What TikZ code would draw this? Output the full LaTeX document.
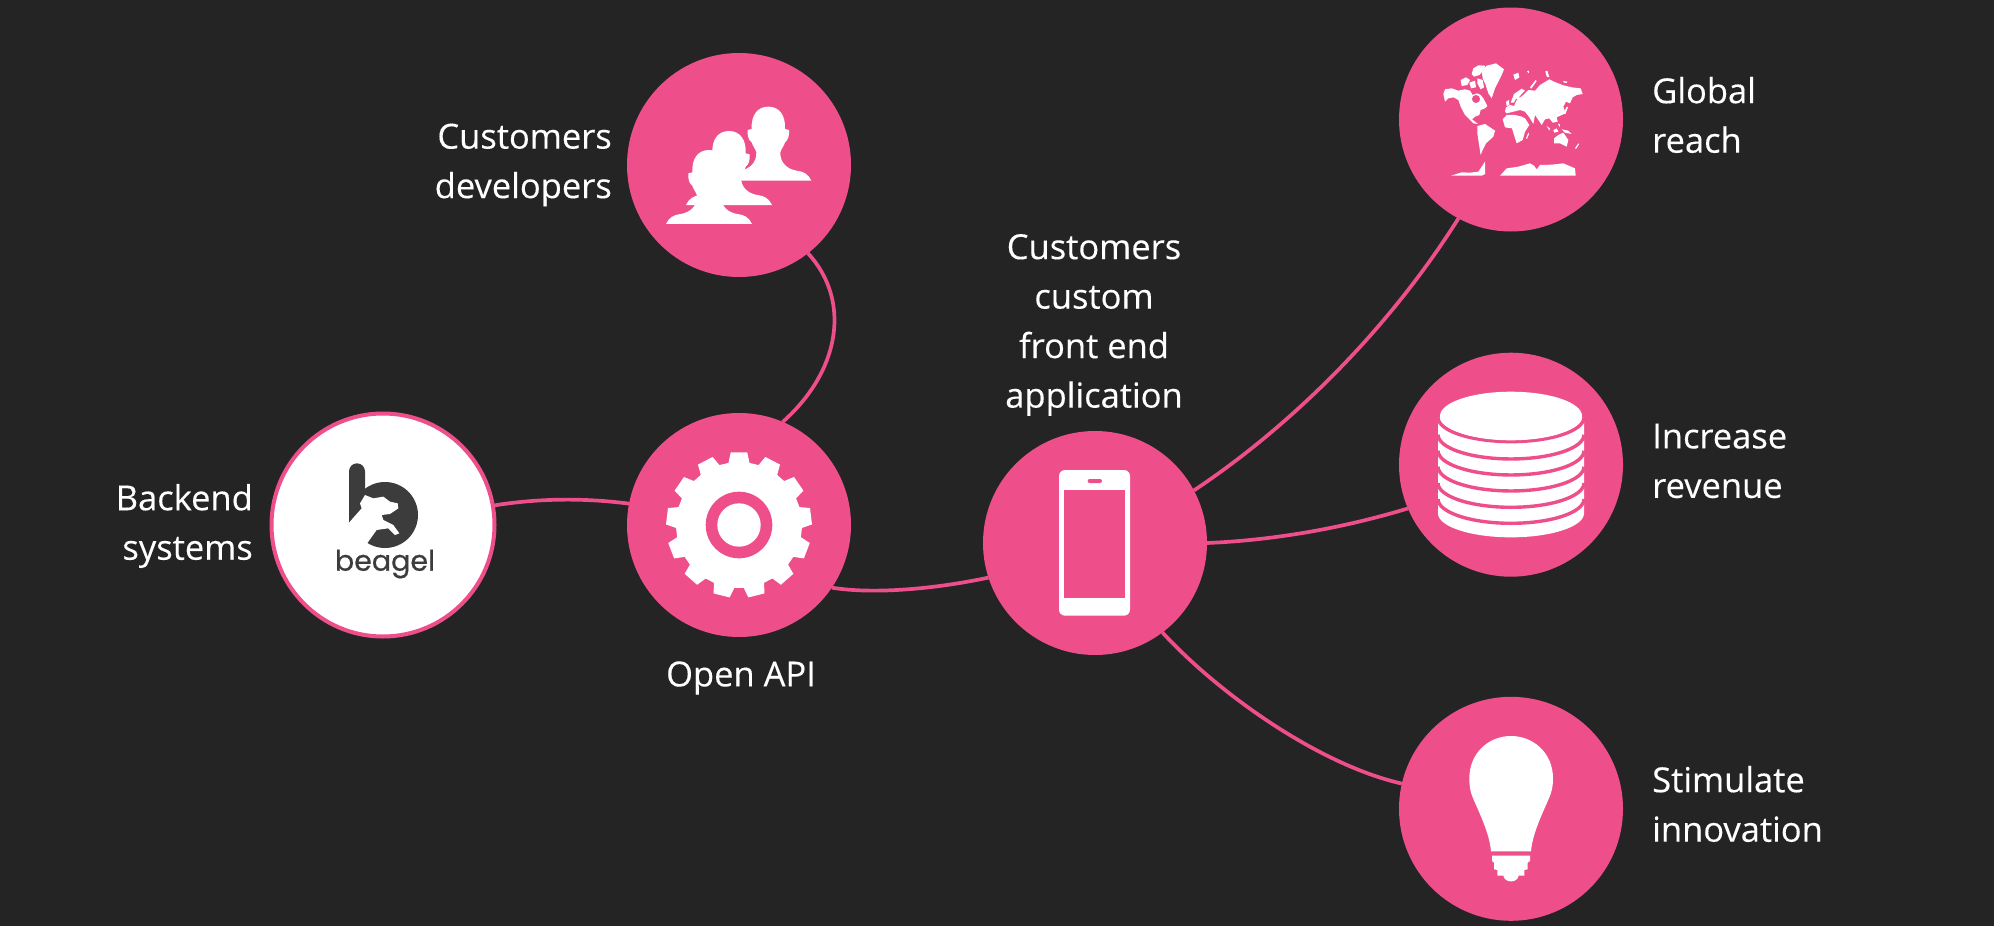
\documentclass[tikz,border=0pt]{standalone}
\usepackage{fontspec}
\setmainfont{Open Sans}[FakeBold=0.25]
\newfontfamily\beagelfont{Poppins}[FakeBold=0.6]
\definecolor{bgdark}{HTML}{242424}
\definecolor{hotpink}{HTML}{EE4F8A}
\definecolor{logodark}{HTML}{3C3C3C}
\tikzset{
  hub/.style={circle,fill=hotpink,minimum size=224pt,inner sep=0pt,outer sep=0pt},
  whitehub/.style={circle,fill=white,draw=hotpink,line width=4pt,minimum size=223pt,inner sep=0pt,outer sep=0pt},
  link/.style={draw=hotpink,line width=3.7pt},
  lbl/.style={text=white,inner sep=0pt,font=\fontsize{34.5}{49.5}\selectfont},
  persona/.pic={
    \fill[white] (0,-222) .. controls (34,-222) and (52,-195) .. (50,-155) -- (62,-152)
      .. controls (64,-135) and (58,-120) .. (50,-115) .. controls (48,-105) and (38,-95) .. (36,-85)
      .. controls (35,-55) and (55,-35) .. (85,-30) .. controls (105,-28) and (120,-20) .. (129,0)
      -- (-129,0) .. controls (-120,-20) and (-105,-28) .. (-85,-30)
      .. controls (-55,-35) and (-35,-55) .. (-36,-85) .. controls (-38,-95) and (-48,-105) .. (-50,-115)
      .. controls (-58,-120) and (-64,-135) .. (-62,-152) -- (-50,-155)
      .. controls (-52,-195) and (-34,-222) .. (0,-222) -- cycle;
  }
}
\begin{document}
\begin{tikzpicture}[x=1pt,y=-1pt]
\path[use as bounding box,fill=bgdark] (0,0) rectangle (1994,926);

% hubs
\node[hub] (dev) at (739,165) {};
\node[whitehub] (back) at (383,525) {};
\node[hub] (api) at (739,525) {};
\node[hub] (app) at (1095,543) {};
\node[hub] (globe) at (1511,119.5) {};
\node[hub] (rev) at (1511,464.7) {};
\node[hub] (idea) at (1511,808.8) {};

% connectors
\draw[link] (dev.-52) .. controls (851,300) and (841,370) .. (api.67);
\draw[link] (back.10) .. controls (540,498) and (585,498) .. (api.169);
\draw[link] (api.-34.5) .. controls (870,594) and (930,590) .. (app.198);
\draw[link] (app.28.4) .. controls (1285,430) and (1385,335) .. (globe.242);
\draw[link] (app.0.5) .. controls (1280,540) and (1350,526) .. (rev.203);
\draw[link] (app.-53.3) .. controls (1220,695) and (1320,765) .. (idea.167.6);

% labels
\node[lbl,anchor=east,align=right] (ldev) at (612,165) {Customers\\developers};
\node[lbl,anchor=east,align=right] (lback) at (253,526) {Backend\\systems};
\node[lbl] (lapi) at (741,678) {Open API};
\node[lbl,align=center] (lapp) at (1094,325) {Customers\\custom\\front end\\application};
\node[lbl,anchor=west,align=left] (lglobe) at (1652,115) {Global\\reach};
\node[lbl,anchor=west,align=left] (lrev) at (1652,461) {Increase\\revenue};
\node[lbl,anchor=west,align=left] (lidea) at (1652,804) {Stimulate\\innovation};

% people icon
\begin{scope}[shift={(600,30)},x=1/3*1pt,y=-1/3*1pt]
  \path (505,452) pic {persona};
  \path (387,525) pic {persona};
  \path (327,582) pic {persona};
\end{scope}

% beagel logo
\begin{scope}[shift={(250,400)},x=1/3*1pt,y=-1/3*1pt]
  \fill[logodark] (297,214) arc[start angle=180,end angle=0,radius=8pt] -- (345,300) -- (297,372) -- cycle;
  \fill[logodark] (405,345) circle[radius=33pt];
  \fill[white] (290,376) -- (297,368) -- (335,325) -- (330,310) -- (345,285) -- (370,295) -- (400,290)
     -- (420,305) -- (443,310) -- (445,325) -- (420,342) -- (395,345) -- (400,360) -- (430,375)
     -- (448,400) -- (435,405) -- (415,385) -- (380,390) -- (350,432) -- (365,450) -- (290,450) -- cycle;
\end{scope}
\node[text=logodark,inner sep=0pt,font=\beagelfont\fontsize{28.5}{29}\selectfont] (lbeagel) at (385,564) {beagel};

% gear icon
\begin{scope}[shift={(739,525)}]
  \fill[white] (94.25:63) \foreach \k in {0,...,12} {
      -- ({103.85+27.69*\k-9.6}:63) -- ({103.85+27.69*\k-6.5}:73) -- ({103.85+27.69*\k+6.5}:73) -- ({103.85+27.69*\k+9.6}:63) } -- cycle;
  \fill[hotpink] (0,0) circle[radius=33.3pt];
  \fill[white] (0,0) circle[radius=21.7pt];
\end{scope}

% phone icon
\begin{scope}[shift={(980,450)},x=1/3*1pt,y=-1/3*1pt]
  \fill[white,rounded corners=6pt] (237,60) rectangle (450,497);
  \fill[hotpink] (252,120) rectangle (435,443);
  \fill[hotpink,rounded corners=2pt] (323,87) rectangle (366,99);
\end{scope}

% world map icon
\begin{scope}[shift={(1390,0)},x=1/3*1pt,y=-1/3*1pt]
  % north america
  \fill[white] (160,282) -- (165,268) -- (185,265) -- (205,272) -- (225,268) -- (240,272) -- (248,285) -- (262,280) -- (272,285) -- (280,295) -- (292,318) -- (285,325) -- (272,330) -- (268,345) -- (255,350) -- (246,358) -- (264,372) -- (250,370) -- (238,358) -- (225,345) -- (212,320) -- (205,300) -- (190,292) -- (175,295) -- (165,305) -- cycle;
  \fill[hotpink] (258,297) circle[radius=4pt];
  % arctic islands
  \fill[white] (245,222) -- (250,205) -- (265,196) -- (285,197) -- (282,210) -- (268,225) -- (252,230) -- cycle;
  \fill[white] (262,235) -- (278,240) -- (282,262) -- (272,268) -- (262,250) -- cycle;
  \fill[white] (212,240) -- (228,232) -- (240,240) -- (232,255) -- (215,258) -- cycle;
  \fill[white] (238,248) -- (255,242) -- (258,262) -- (243,265) -- cycle;
  % greenland
  \fill[white] (275,212) -- (290,197) -- (318,190) -- (342,208) -- (335,225) -- (325,245) -- (315,265) -- (305,295) -- (295,280) -- (287,255) -- (278,235) -- cycle;
  % iceland, svalbard
  \fill[white] (370,224) -- (385,218) -- (388,232) -- (375,240) -- cycle;
  \fill[white] (411,214) -- (417,212) -- (416,220) -- cycle;
  \fill[white] (466,214) -- (472,212) -- (478,232) -- (470,230) -- cycle;
  \fill[white] (520,243) -- (532,245) -- (530,249) -- (520,247) -- cycle;
  % south america
  \fill[white] (262,378) -- (285,372) -- (315,392) -- (310,410) -- (288,430) -- (278,450) -- (272,465) -- (268,440) -- (262,400) -- cycle;
  % eurasia
  \fill[white] (348,322) -- (360,315) -- (372,318) -- (380,300) -- (400,285) -- (415,270) -- (435,272) -- (450,255) -- (478,238) -- (492,245) -- (520,256) -- (545,262) -- (572,265) -- (578,282) -- (560,285) -- (548,292) -- (540,310) -- (528,305) -- (520,320) -- (527,340) -- (515,345) -- (500,352) -- (503,365) -- (488,368) -- (478,355) -- (465,358) -- (455,375) -- (445,360) -- (435,345) -- (430,372) -- (418,352) -- (405,335) -- (390,330) -- (370,335) -- (350,340) -- (345,335) -- cycle;
  % scandinavia, uk
  \fill[white] (362,308) -- (372,282) -- (395,266) -- (405,272) -- (395,282) -- (388,290) -- (390,300) -- (378,296) -- (372,308) -- cycle;
  \fill[white] (348,305) -- (357,300) -- (358,315) -- (350,318) -- cycle;
  % africa
  \fill[white] (338,358) -- (350,345) -- (375,345) -- (395,350) -- (405,355) -- (418,375) -- (405,395) -- (398,420) -- (380,430) -- (372,405) -- (366,385) -- (345,382) -- cycle;
  % novaya zemlya
  \fill[white] (420,262) -- (437,240) -- (440,243) -- (424,266) -- cycle;
  % se asia islands
  \fill[white] (470,378) -- (480,385) -- (478,392) -- cycle;
  \fill[white] (490,390) -- (500,385) -- (505,395) -- (493,398) -- cycle;
  \fill[white] (504,372) -- (509,372) -- (510,382) -- cycle;
  \fill[white] (515,388) -- (535,392) -- (545,402) -- (525,398) -- cycle;
  % australia, nz, madagascar, japan
  \fill[white] (492,415) -- (505,405) -- (520,398) -- (535,420) -- (530,440) -- (510,430) -- (492,430) -- cycle;
  \fill[white] (555,445) -- (565,430) -- (567,433) -- (558,447) -- cycle;
  \fill[white] (408,415) -- (415,398) -- (417,402) -- (411,417) -- cycle;
  \fill[white] (520,340) -- (530,320) -- (534,322) -- (526,342) -- cycle;
  % antarctica
  \fill[white] (183,527) -- (215,517) -- (240,518) -- (265,515) -- (275,500) -- (285,485) -- (285,522) -- (275,527) -- cycle;
  \fill[white] (330,527) -- (350,505) -- (385,500) -- (420,490) -- (432,497) -- (440,508) -- (450,495) -- (485,494) -- (520,490) -- (555,505) -- (557,527) -- cycle;
\end{scope}

% database icon
\begin{scope}[shift={(1390,350)},x=1/3*1pt,y=-1/3*1pt]
  \fill[white] (144,202) -- (144,490) arc[start angle=180,end angle=360,x radius=73pt,y radius=24pt] -- (582,202) -- cycle;
  \foreach \c in {202,254,302,350,399,447}
    \draw[hotpink,line width=3.4pt] (144,\c) arc[start angle=180,end angle=360,x radius=73pt,y radius=24.3pt];
  \fill[hotpink] (140,120) rectangle (586,200);
  \fill[white] (363,198) ellipse[x radius=71pt,y radius=24.3pt];
\end{scope}

% bulb icon
\begin{scope}[shift={(1390,690)},x=1/3*1pt,y=-1/3*1pt]
  \fill[white] (238,265) .. controls (238,190) and (295,138) .. (363,138) .. controls (431,138) and (489,190) .. (489,265)
     .. controls (489,290) and (485,305) .. (478,322) .. controls (460,365) and (427,430) .. (423,484) -- (303,484)
     .. controls (299,430) and (266,365) .. (248,322) .. controls (241,305) and (238,290) .. (238,265) -- cycle;
  \fill[white] (306,497) -- (420,497) -- (420,513) -- (413,518) -- (413,538) -- (403,540) -- (403,557) -- (386,557)
     .. controls (382,580) and (344,580) .. (340,557) -- (322,557) -- (322,540) -- (312,538) -- (312,518) -- (306,513) -- cycle;
\end{scope}
\end{tikzpicture}
\end{document}
